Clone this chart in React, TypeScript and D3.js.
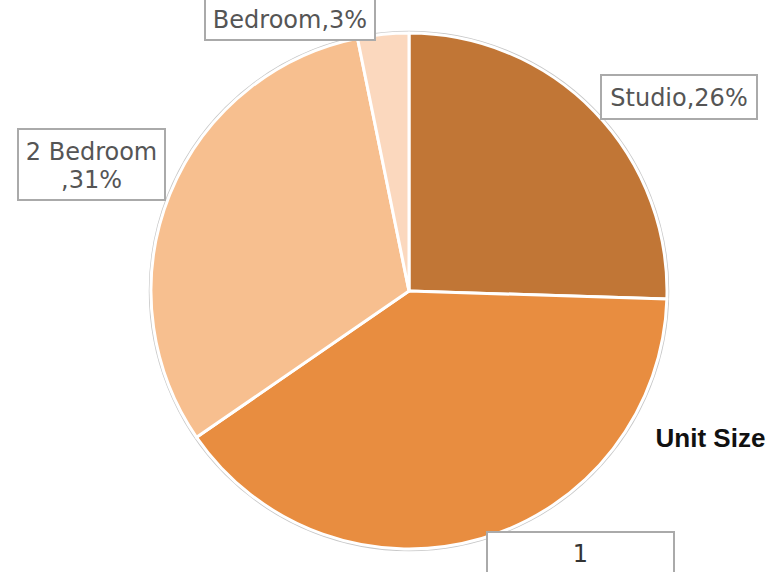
import React from "react";
import * as d3 from "d3";

const categories = ["Studio", "1 Bedroom", "2 Bedroom", "3 Bedroom"];
const shares = [25.5, 39.9, 31.4, 3.2];
const colors = ["#C17636", "#E88D40", "#F7BF8F", "#FBD8BE"];
// visible label lines in each box (the reference frame clips the rest)
const labelLines = [["Studio,26%"], ["1"], ["2 Bedroom", ",31%"], ["", "Bedroom,3%"]];
const legendTitle = "Unit Size";

const W = 780;
const H = 572;
const cx = 409;
const cy = 291;
const R = 258;

// box layout: x, y, w, h, first baseline offset, line height
const boxes = [
  { x: 601, y: 75, w: 156, h: 44, b: 31, lh: 28, fill: "#555" },
  { x: 487, y: 532, w: 187, h: 72, b: 30, lh: 28, fill: "#333" },
  { x: 18, y: 129, w: 147, h: 71, b: 31, lh: 28, fill: "#555" },
  { x: 205, y: -31, w: 170, h: 71, b: 31, lh: 28, fill: "#555" },
];

export default function App() {
  const pie = d3.pie<number>().sort(null).value((d) => d)(shares);
  const arc = d3.arc<d3.PieArcDatum<number>>().innerRadius(0).outerRadius(R);
  return (
    <svg
      width={W}
      height={H}
      style={{ position: "absolute", left: 0, top: 0, background: "#fff" }}
    >
      <circle cx={cx} cy={cy} r={R + 1.5} fill="none" stroke="#c8c8c8" strokeWidth={1.5} />
      <g transform={`translate(${cx},${cy})`}>
        {pie.map((p, i) => (
          <path key={categories[i]} d={arc(p) || ""} fill={colors[i]} stroke="#fff" strokeWidth={3} strokeLinejoin="round" />
        ))}
      </g>
      {boxes.map((bx, i) => (
        <g key={"lbl" + i}>
          <rect x={bx.x} y={bx.y} width={bx.w} height={bx.h} fill="#fff" stroke="#aaa" strokeWidth={2} />
          {labelLines[i].map((t, j) =>
            t ? (
              <text
                key={j}
                x={bx.x + bx.w / 2}
                y={bx.y + bx.b + j * bx.lh}
                textAnchor="middle"
                fontFamily="'DejaVu Sans', Verdana, sans-serif"
                fontSize={24}
                fill={bx.fill}
              >
                {t}
              </text>
            ) : null
          )}
        </g>
      ))}
      <text x={710.5} y={447} textAnchor="middle" fontFamily="'Liberation Sans', Arial, sans-serif" fontWeight="bold" fontSize={26} fill="#111">
        {legendTitle}
      </text>
    </svg>
  );
}
